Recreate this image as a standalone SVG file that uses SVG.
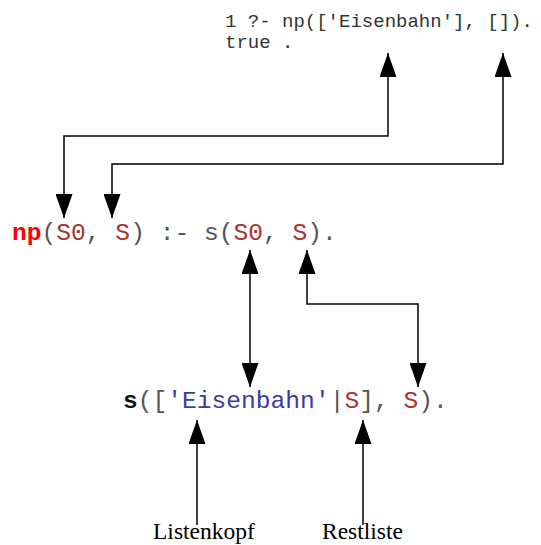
<svg xmlns="http://www.w3.org/2000/svg" width="541" height="545" viewBox="0 0 541 545">
<style>
.code{font-family:"Liberation Mono","Courier New",monospace;}
.top{font-size:19px;fill:#333;}
.big{font-size:24.6px;fill:#555;}
.var{fill:#a83232;}
.head{fill:#ff0000;font-weight:bold;}
.atom{fill:#3a3aa8;}
.sb{fill:#111;font-weight:bold;}
.lbl{font-family:"Liberation Serif","Times New Roman",serif;font-size:23.5px;fill:#000;}
.con{fill:none;stroke:#000;stroke-width:1.5;}
</style>
<defs>
<marker id="ah" markerUnits="userSpaceOnUse" markerWidth="24" markerHeight="17" viewBox="0 0 24 17" refX="24" refY="8.5" orient="auto-start-reverse">
<polygon points="0,0 24,8.5 0,17" fill="#000"/>
</marker>
</defs>
<rect width="541" height="545" fill="#fff"/>
<g id="query">
<text class="code top" x="225" y="27" xml:space="preserve">1 ?- np(['Eisenbahn'], []).</text>
<text class="code top" x="225" y="48" xml:space="preserve">true .</text>
</g>
<g id="rule">
<text class="code big" x="12" y="240" xml:space="preserve"><tspan class="head">np</tspan>(<tspan class="var">S0</tspan>, <tspan class="var">S</tspan>) :- s(<tspan class="var">S0</tspan>, <tspan class="var">S</tspan>).</text>
</g>
<g id="fact">
<text class="code big" x="123" y="408" xml:space="preserve"><tspan class="sb">s</tspan>([<tspan class="atom">'Eisenbahn'</tspan>|<tspan class="var">S</tspan>], <tspan class="var">S</tspan>).</text>
</g>
<g id="label-listenkopf">
<text class="lbl" x="153" y="539">Listenkopf</text>
</g>
<g id="label-restliste">
<text class="lbl" x="322" y="539">Restliste</text>
</g>
<g id="connectors">
<path class="con" d="M388,53 L388,136 L64,136 L64,218" marker-start="url(#ah)" marker-end="url(#ah)"/>
<path class="con" d="M503,53 L503,164 L112,164 L112,218" marker-start="url(#ah)" marker-end="url(#ah)"/>
<path class="con" d="M250,250 L250,387" marker-start="url(#ah)" marker-end="url(#ah)"/>
<path class="con" d="M307,250 L307,304 L418,304 L418,387" marker-start="url(#ah)" marker-end="url(#ah)"/>
<path class="con" d="M197,525 L197,420" marker-end="url(#ah)"/>
<path class="con" d="M363,525 L363,420" marker-end="url(#ah)"/>
</g>
</svg>
